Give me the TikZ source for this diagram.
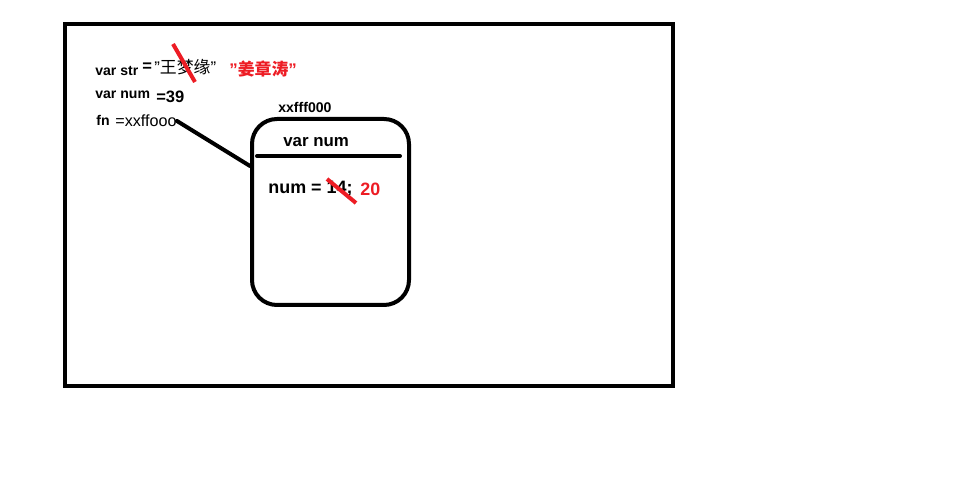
\documentclass[tikz,border=0pt]{standalone}
\usepackage{fontspec}
\setmainfont{Liberation Sans}
\newfontfamily\cjk{Noto Sans CJK SC}
\usetikzlibrary{calc}
\definecolor{paintred}{RGB}{237,28,36}
\def\q{\symbol{34}}
\tikzset{
  thick line/.style={line width=0.08cm, line cap=round},
  lbl/.style={anchor=west, inner sep=0pt, font=\bfseries\fontsize{8}{9}\selectfont},
  val/.style={anchor=west, inner sep=0pt, font=\bfseries\fontsize{9.4}{11}\selectfont},
  redmark/.style={line width=0.08cm, color=paintred},
}
\begin{document}
\begin{tikzpicture}[x=0.02cm,y=-0.02cm]
			%%%%% START %%%%%
			\useasboundingbox (0,0) rectangle (975,502);
			
			\draw[thick line, line cap=butt] (65,24) rectangle (673,386);
			
			% left column of variables
			\node[lbl] (strkey) at (95,71) {var str};
			\node[val] (streq) at (142,67) {=};
			\node[anchor=west, inner sep=0pt, font=\fontsize{9.6}{11}\selectfont] (strval) at (154,67) {\q{\cjk 王梦缘}\q};
			\node[anchor=west, inner sep=0pt, font=\bfseries\fontsize{9.6}{11}\selectfont, color=paintred] (strnew) at (229,69) {\q{\cjk\bfseries 姜章涛}\q};
			\draw[redmark] (173,44) -- (195,82);
			
			\node[lbl] (numkey) at (95,95) {var num};
			\node[val] (numval) at (156,97) {=39};
			
			\node[lbl] (fnkey) at (96,120) {fn};
			\node[anchor=west, inner sep=0pt, font=\fontsize{9.2}{10}\selectfont] (fnval) at (115,121) {=xxffooo};
			
			% heap object
			\node[lbl] (addr) at (278,107) {xxfff000};
			\draw[thick line, rounded corners=0.5cm] (252,119) rectangle (409,305);
			\coordinate (boxw) at (250,166);
			\draw[thick line] (257,156) -- (400,156);
			\node[anchor=west, inner sep=0pt, font=\bfseries\fontsize{9.6}{11}\selectfont] (objname) at (283,142) {var num};
			\node[anchor=west, inner sep=0pt, font=\bfseries\fontsize{10.2}{12}\selectfont] (objval) at (268,189) {num = 14;};
			\node[anchor=west, inner sep=0pt, font=\bfseries\fontsize{10.2}{12}\selectfont, color=paintred] (objnew) at (360,189) {20};
			\draw[redmark] (327,179) -- (356,203);
			
			\draw[thick line] (fnval.east) -- (boxw);
			
			%%%%% END %%%%%
\end{tikzpicture}
\end{document}
